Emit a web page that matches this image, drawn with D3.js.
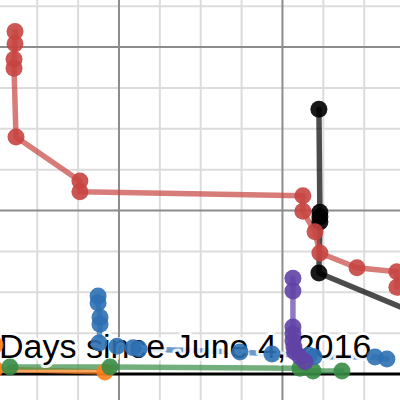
<!DOCTYPE html>
<html><head><meta charset="utf-8">
<script src="https://cdn.jsdelivr.net/npm/d3@7"></script>
<style>html,body{margin:0;padding:0;background:#fff;overflow:hidden}</style>
</head><body>
<svg id="chart" width="400" height="400"></svg>
<script>
// Axis label
const xLabel = "Days since June 4, 2016";
// Grid tick values (no numbers are shown in the view)
const xMinorTicks = d3.range(25, 276, 25);
const xMajorTicks = [100, 200];
const yMinorTicks = d3.range(5, 46, 5);
const yMajorTicks = [20, 40];

// Series (x = days, y = value)
const redX = [36.4, 36.4, 35.8, 35.8, 37.0, 76.1, 76.1, 212.5, 212.5, 219.9, 222.9, 245.6, 270.0, 270.0];
const redY = [41.9, 40.4, 38.5, 37.4, 29.0, 23.6, 22.3, 21.8, 19.9, 17.4, 14.8, 13.0, 12.5, 10.6];

const blackX = [222.3, 222.9, 222.9, 222.9, 222.3, 300];
const blackY = [32.4, 19.8, 19.2, 18.6, 12.35, 5.9];

const purpleX = [206.4, 206.4, 206.4, 206.4, 206.4, 207.0, 207.6, 210.7, 213.8];
const purpleY = [11.7, 10.15, 5.75, 4.9, 4.05, 3.3, 2.7, 2.1, 1.5];

const blueX = [87.2, 87.2, 88.4, 88.4, 87.8, 98.8, 108.6, 112.3, 174.0, 193.6, 216.2, 219.3, 256.6, 263.9];
const blueY = [9.55, 8.7, 6.95, 6.1, 3.8, 3.4, 3.2, 3.05, 2.7, 2.45, 2.3, 2.1, 2.08, 1.83];

const greenX = [33.3, 94.5, 210.7, 218.7, 236.4];
const greenY = [0.86, 0.86, 0.7, 0.37, 0.37];

const orangeX = [24.2, 24.2, 91.4];
const orangeY = [3.55, 0.6, 0.24];

const series = [
  {name: "orange", color: "#fa7e19", xs: orangeX, ys: orangeY},
  {name: "green", color: "#388c46", xs: greenX, ys: greenY},
  {name: "blue", color: "#2d70b3", xs: blueX, ys: blueY},
  {name: "purple", color: "#6042a6", xs: purpleX, ys: purpleY},
  {name: "black", color: "#000000", xs: blackX, ys: blackY},
  {name: "red", color: "#c74440", xs: redX, ys: redY}
];

const W = 400, H = 400;
const svg = d3.select("#chart");
const x = d3.scaleLinear().domain([27.22, 271.9]).range([0, W]);
const y = d3.scaleLinear().domain([-3.18, 45.75]).range([H, 0]);

// grid
const g = svg.append("g");
g.selectAll("line.vminor").data(xMinorTicks.filter(v => !xMajorTicks.includes(v))).join("line")
  .attr("x1", d => x(d)).attr("x2", d => x(d)).attr("y1", 0).attr("y2", H)
  .attr("stroke", "#dcdcdc").attr("stroke-width", 2);
g.selectAll("line.hminor").data(yMinorTicks.filter(v => !yMajorTicks.includes(v))).join("line")
  .attr("y1", d => y(d)).attr("y2", d => y(d)).attr("x1", 0).attr("x2", W)
  .attr("stroke", "#dcdcdc").attr("stroke-width", 2);
g.selectAll("line.vmajor").data(xMajorTicks).join("line")
  .attr("x1", d => x(d)).attr("x2", d => x(d)).attr("y1", 0).attr("y2", H)
  .attr("stroke", "#8c8c8c").attr("stroke-width", 2);
g.selectAll("line.hmajor").data(yMajorTicks).join("line")
  .attr("y1", d => y(d)).attr("y2", d => y(d)).attr("x1", 0).attr("x2", W)
  .attr("stroke", "#8c8c8c").attr("stroke-width", 2);
// x axis (y = 0)
svg.append("line").attr("x1", 0).attr("x2", W).attr("y1", y(0)).attr("y2", y(0))
  .attr("stroke", "#000").attr("stroke-width", 3);

const line = d3.line().x(d => x(d[0])).y(d => y(d[1]));
// lines
series.forEach(s => {
  const pts = s.xs.map((v, i) => [v, s.ys[i]]);
  svg.append("path").datum(pts).attr("d", line)
    .attr("fill", "none").attr("stroke", s.color).attr("stroke-width", 5.5)
    .attr("stroke-opacity", 0.7).attr("stroke-linejoin", "round").attr("stroke-linecap", "round");
});

// label
svg.append("text").attr("x", -1).attr("y", 358)
  .attr("font-family", "Liberation Sans, Arial, sans-serif").attr("font-size", 34)
  .attr("fill", "#000").attr("stroke", "#fff").attr("stroke-opacity", 0.85)
  .attr("stroke-width", 6).attr("paint-order", "stroke").attr("stroke-linejoin", "round")
  .text(xLabel);

// points
series.forEach(s => {
  const pts = s.xs.map((v, i) => [v, s.ys[i]]);
  svg.append("g").selectAll("circle").data(pts).join("circle")
    .attr("cx", d => x(d[0])).attr("cy", d => y(d[1])).attr("r", 8.5)
    .attr("fill", s.color).attr("fill-opacity", 0.9);
});
</script>
</body></html>
